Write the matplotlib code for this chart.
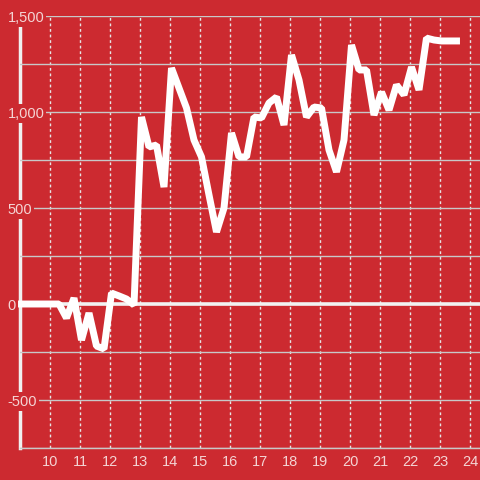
import numpy as np
import matplotlib
matplotlib.use("Agg")
import matplotlib.pyplot as plt
from matplotlib.ticker import FuncFormatter, MultipleLocator

# quarterly series, x in years (two-digit)
x_start = 9.05
x_step = 0.25
values = [0, 0, 0, 0, 0, 0, -73, 31, -188, -47,
          -219, -234, 57, 42, 26, -5, 974, 818, 828, 609,
          1229, 1125, 1021, 854, 766, 568, 375, 500, 891, 766,
          766, 974, 969, 1047, 1078, 932, 1297, 1167, 974, 1026,
          1021, 802, 688, 854, 1349, 1219, 1219, 984, 1104, 1010,
          1141, 1089, 1234, 1115, 1385, 1375, 1370, 1370, 1370]
x = x_start + x_step * np.arange(len(values))

x_ticks = list(range(10, 25))
y_ticks = [-500, 0, 500, 1000, 1500]

bg = "#cc2a30"
label_col = "#f4d4d4"

plt.rcParams['font.family'] = ['Liberation Sans', 'DejaVu Sans']

fig = plt.figure(figsize=(4.8, 4.8), dpi=100, facecolor=bg)
ax = fig.add_axes([20 / 480, 32 / 480, 460 / 480, 432 / 480])
ax.set_facecolor(bg)

ax.set_xlim(9.0, 9.0 + 460 / 30)
ax.set_ylim(-750, 1500)

ax.axhline(0, color="#f2f2f2", lw=2.6, zorder=1.5)
ax.plot(x, values, color="white", lw=5, solid_capstyle="projecting",
        solid_joinstyle="bevel", clip_on=False, zorder=3)

ax.set_axisbelow(True)
ax.set_xticks(x_ticks)
ax.set_yticks(y_ticks)
ax.yaxis.set_minor_locator(MultipleLocator(250))
ax.yaxis.set_major_formatter(FuncFormatter(lambda v, p: f"{int(v):,}"))
ax.grid(axis="y", which="both", color="#c8c8c8", lw=1)
ax.grid(axis="x", color="#e6e6e6", lw=1, ls=(0, (2, 2)))
ax.tick_params(axis="both", which="both", length=0, colors=label_col, labelsize=10.5)
ax.tick_params(axis="y", pad=9)
ax.tick_params(axis="x", pad=5)

for lab in ax.get_yticklabels():
    lab.set_horizontalalignment("left")
    lab.set_bbox(dict(facecolor=bg, edgecolor="none", pad=1.5))

for s in ["top", "right"]:
    ax.spines[s].set_visible(False)
ax.spines["left"].set_color("#f0f0f0")
ax.spines["left"].set_linewidth(2.5)
ax.spines["left"].set_zorder(0.4)
ax.spines["bottom"].set_color("#c8c8c8")
ax.spines["bottom"].set_linewidth(1)

fig.savefig("out.png", dpi=100, facecolor=bg)
